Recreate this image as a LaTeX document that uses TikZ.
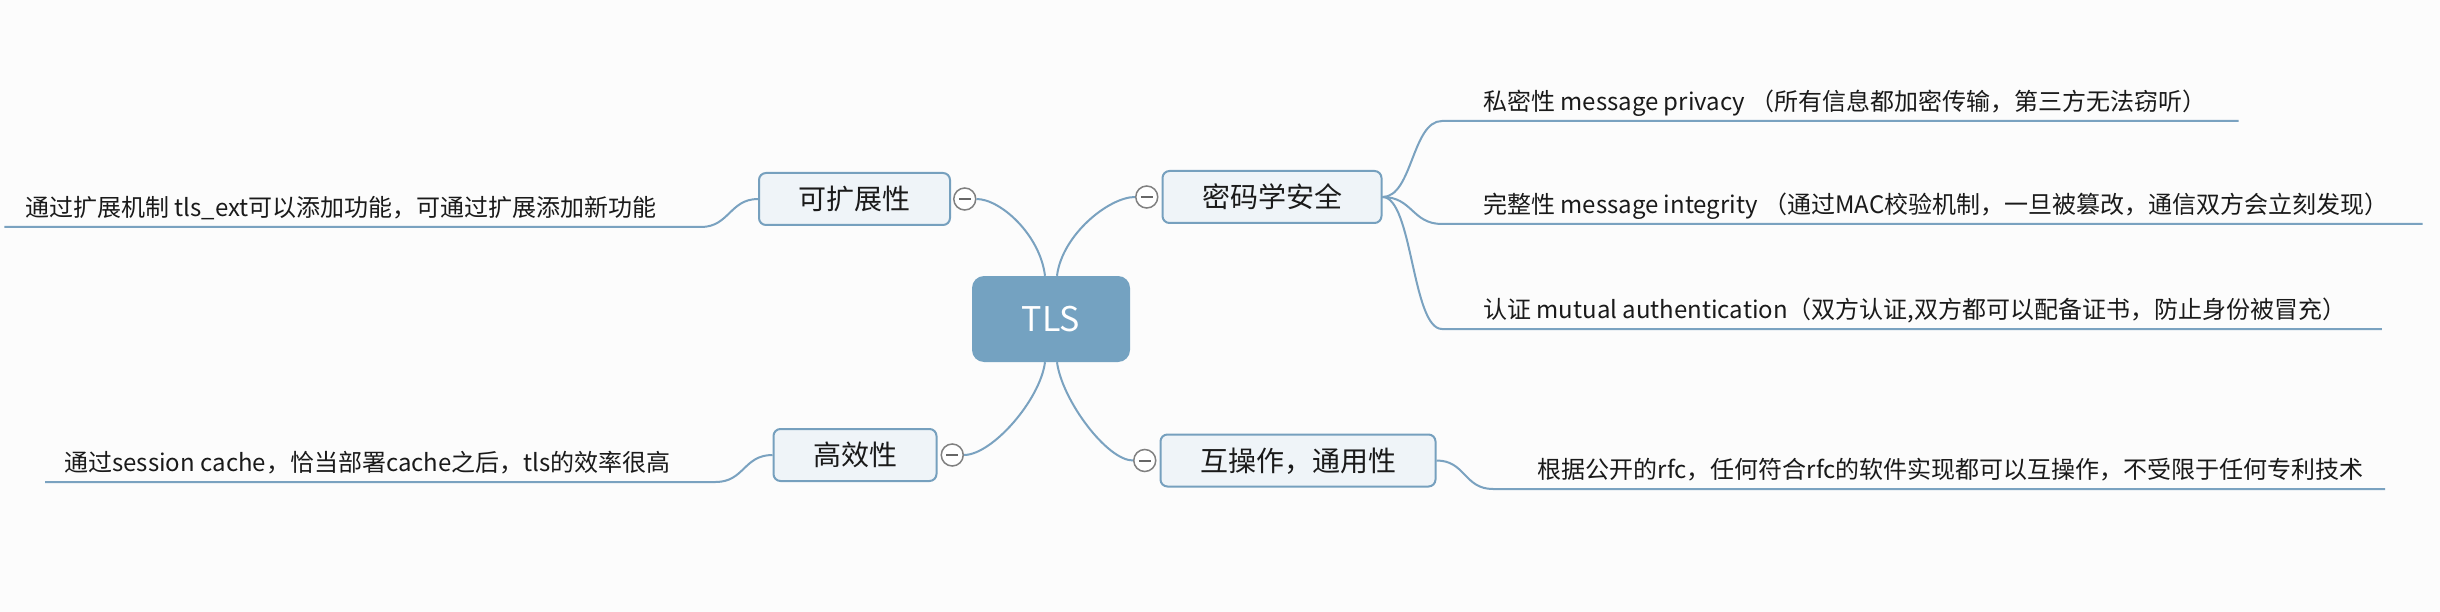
\documentclass[tikz,border=0pt]{standalone}
\usepackage{fontspec}
\setmainfont{Noto Sans CJK SC}
\usepackage{tikz}
\usetikzlibrary{positioning}
\definecolor{rootblue}{RGB}{116,162,193}
\definecolor{topicfill}{RGB}{239,244,248}
\definecolor{topicline}{RGB}{118,160,190}
\definecolor{linkline}{RGB}{122,162,192}
\definecolor{foldgray}{RGB}{128,128,128}
\definecolor{bgcolor}{RGB}{252,252,252}
\definecolor{inkblack}{RGB}{26,26,26}
\tikzstyle{root}=[
	rectangle,
	rounded corners=12pt,
	fill=rootblue,
	text=white,
	font=\fontsize{34}{34}\selectfont,
	minimum width=158pt,
	minimum height=86pt,
	text height=24.8pt,
	text depth=0pt
]
\tikzstyle{topic}=[
	rectangle,
	rounded corners=7pt,
	draw=topicline,
	line width=2pt,
	fill=topicfill,
	text=inkblack,
	font=\fontsize{28}{28}\selectfont,
	inner xsep=39.5pt,
	inner ysep=0pt,
	minimum height=52pt,
	text height=23.5pt,
	text depth=2pt
]
\tikzstyle{fold}=[
	circle,
	draw=foldgray,
	line width=1.5pt,
	fill=white,
	minimum size=22pt,
	inner sep=0pt,
	path picture={\draw[foldgray!80!black, line width=2pt]
		([xshift=-6pt]path picture bounding box.center) --
		([xshift=6pt]path picture bounding box.center);}
]
\tikzstyle{leaf}=[
	inner sep=0pt,
	text=inkblack,
	font=\fontsize{24}{24}\selectfont,
	text height=18pt,
	text depth=10.5pt
]
\tikzstyle{link}=[
	draw=linkline,
	line width=2pt
]

\begin{document}
\begin{tikzpicture}[x=1pt, y=-1pt]
\useasboundingbox (0,0) rectangle (2440,612);
\fill[bgcolor] (0,0) rectangle (2440,612);

% main topics
\node[root] (tls) at (1051,319) {TLS};
\node[topic] (crypto) at (1272,197) {密码学安全};
\node[topic] (extend) at (854.5,199) {可扩展性};
\node[topic] (fast) at (855,455) {高效性};
\node[topic] (interop) at (1298,460.5) {互操作，通用性};

\node[fold, left=3pt of crypto] (cryptofold) {};
\node[fold, right=2pt of extend] (extendfold) {};
\node[fold, right=3pt of fast] (fastfold) {};
\node[fold, left=3pt of interop] (interopfold) {};

\draw[link] ([xshift=-6pt]tls.north) .. controls +(-5,-41) and +(24,0) .. (extendfold.east);
\draw[link] ([xshift=6pt]tls.north) .. controls +(5,-41) and +(-26,0) .. (cryptofold.west);
\draw[link] ([xshift=-6pt]tls.south) .. controls +(-5,38) and +(28,0) .. (fastfold.east);
\draw[link] ([xshift=6pt]tls.south) .. controls +(5,38) and +(-26,0) .. (interopfold.west);

% notes
\node[leaf, anchor=south west] (privacy) at (1483,121) {私密性 message privacy （所有信息都加密传输，第三方无法窃听）};
\node[leaf, anchor=south west] (integrity) at (1483,224) {完整性 message integrity （通过MAC校验机制，一旦被篡改，通信双方会立刻发现）};
\node[leaf, anchor=south west] (auth) at (1483,329) {认证 mutual authentication（双方认证,双方都可以配备证书，防止身份被冒充）};
\node[leaf, anchor=south west] (rfcnote) at (1537.5,489) {根据公开的rfc，任何符合rfc的软件实现都可以互操作，不受限于任何专利技术};
\node[leaf, anchor=south east] (extnote) at (657,227) {通过扩展机制 tls\_ext可以添加功能，可通过扩展添加新功能};
\node[leaf, anchor=south east] (cachenote) at (671,482) {通过session cache，恰当部署cache之后，tls的效率很高};

\draw[link] (crypto.east) .. controls +(30,0) and +(-30,0) .. ([xshift=-41pt]privacy.south west) -- ([xshift=32pt]privacy.south east);
\draw[link] (crypto.east) .. controls +(30,0) and +(-30,0) .. ([xshift=-41pt]integrity.south west) -- ([xshift=34pt]integrity.south east);
\draw[link] (crypto.east) .. controls +(30,0) and +(-30,0) .. ([xshift=-41pt]auth.south west) -- ([xshift=35pt]auth.south east);
\draw[link] (interop.east) .. controls +(29,0) and +(-29,0) .. ([xshift=-44.5pt]rfcnote.south west) -- ([xshift=21pt]rfcnote.south east);
\draw[link] (extend.west) .. controls +(-28,0) and +(28,0) .. ([xshift=44pt]extnote.south east) -- ([xshift=-21pt]extnote.south west);
\draw[link] (fast.west) .. controls +(-29,0) and +(29,0) .. ([xshift=44.5pt]cachenote.south east) -- ([xshift=-19pt]cachenote.south west);

\end{tikzpicture}
\end{document}
